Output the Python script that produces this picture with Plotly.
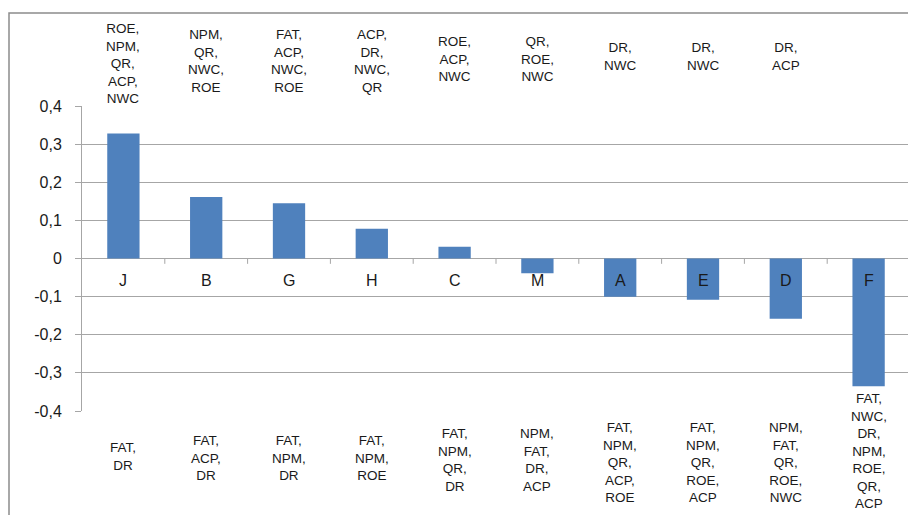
import plotly.graph_objects as go

categories = ["J", "B", "G", "H", "C", "M", "A", "E", "D", "F"]
values = [0.328, 0.161, 0.145, 0.078, 0.031, -0.039, -0.100, -0.108, -0.158, -0.335]
top_labels = [
    "ROE,<br>NPM,<br>QR,<br>ACP,<br>NWC",
    "NPM,<br>QR,<br>NWC,<br>ROE",
    "FAT,<br>ACP,<br>NWC,<br>ROE",
    "ACP,<br>DR,<br>NWC,<br>QR",
    "ROE,<br>ACP,<br>NWC",
    "QR,<br>ROE,<br>NWC",
    "DR,<br>NWC",
    "DR,<br>NWC",
    "DR,<br>ACP",
    "",
]
bottom_labels = [
    "FAT,<br>DR",
    "FAT,<br>ACP,<br>DR",
    "FAT,<br>NPM,<br>DR",
    "FAT,<br>NPM,<br>ROE",
    "FAT,<br>NPM,<br>QR,<br>DR",
    "NPM,<br>FAT,<br>DR,<br>ACP",
    "FAT,<br>NPM,<br>QR,<br>ACP,<br>ROE",
    "FAT,<br>NPM,<br>QR,<br>ROE,<br>ACP",
    "NPM,<br>FAT,<br>QR,<br>ROE,<br>NWC",
    "FAT,<br>NWC,<br>DR,<br>NPM,<br>ROE,<br>QR,<br>ACP",
]
y_tickvals = [0.4, 0.3, 0.2, 0.1, 0, -0.1, -0.2, -0.3, -0.4]
y_ticktext = ["0,4", "0,3", "0,2", "0,1", "0", "-0,1", "-0,2", "-0,3", "-0,4"]

FONT = "Liberation Sans, Arial, sans-serif"
TXT = "#1a1a1a"
GRID = "#a6a6a6"

W, H = 908, 507
ML, MR, MT, MB = 74, 6, 98, 104
PW, PH = W - ML - MR, H - MT - MB


def paper_y(page_px):
    # page pixel (body has 8px offset) -> paper coordinate
    return (MT + PH - (page_px - 8)) / PH


fig = go.Figure()
fig.add_trace(go.Bar(
    x=list(range(len(categories))), y=values,
    marker=dict(color="#4F81BD", line=dict(width=0)),
    width=0.39, hoverinfo="skip",
))

annotations = []
shapes = []
for i, cat in enumerate(categories):
    annotations.append(dict(x=i, y=-0.058, xref="x", yref="y", text=cat, showarrow=False,
                            font=dict(size=16, color=TXT, family=FONT), yanchor="middle"))
    if top_labels[i]:
        n = top_labels[i].count("<br>") + 1
        annotations.append(dict(x=i, y=paper_y(52 + 2.3 * n), xref="x", yref="paper",
                                text=top_labels[i], showarrow=False, yanchor="middle",
                                font=dict(size=13.5, color=TXT, family=FONT)))
    if bottom_labels[i]:
        n = bottom_labels[i].count("<br>") + 1
        c = 452 + 2 * n if n <= 5 else 451
        annotations.append(dict(x=i, y=paper_y(c), xref="x", yref="paper",
                                text=bottom_labels[i], showarrow=False, yanchor="middle",
                                font=dict(size=13.5, color=TXT, family=FONT)))
for i in range(len(categories)):
    shapes.append(dict(type="line", xref="x", yref="y", x0=i + 0.5, x1=i + 0.5,
                       y0=0, y1=-0.014, line=dict(color=GRID, width=1)))
# outer chart border (left and top edges visible)
shapes.append(dict(type="rect", xref="paper", yref="paper",
                   x0=(-ML + 1) / PW, x1=(PW + MR + 20) / PW,
                   y0=-(MB + 20) / PH, y1=(PH + MT - 5) / PH,
                   line=dict(color="#8c8c8c", width=1.5)))

fig.update_layout(
    width=W, height=H,
    margin=dict(l=ML, r=MR, t=MT, b=MB),
    paper_bgcolor="white", plot_bgcolor="white",
    showlegend=False,
    bargap=0.6,
    font=dict(family=FONT, color=TXT),
    xaxis=dict(range=[-0.5, len(categories) - 0.5], showticklabels=False, showgrid=False,
               zeroline=False, showline=False, ticks=""),
    yaxis=dict(range=[-0.4, 0.4], tickvals=y_tickvals, ticktext=y_ticktext,
               showgrid=True, gridcolor=GRID, gridwidth=1,
               zeroline=True, zerolinecolor=GRID, zerolinewidth=1,
               showline=True, linecolor=GRID, linewidth=1,
               ticks="outside", ticklen=6, tickcolor=GRID,
               ticklabelstandoff=10,
               tickfont=dict(size=16, color=TXT, family=FONT)),
    annotations=annotations,
    shapes=shapes,
)

fig.write_html("out.html")
